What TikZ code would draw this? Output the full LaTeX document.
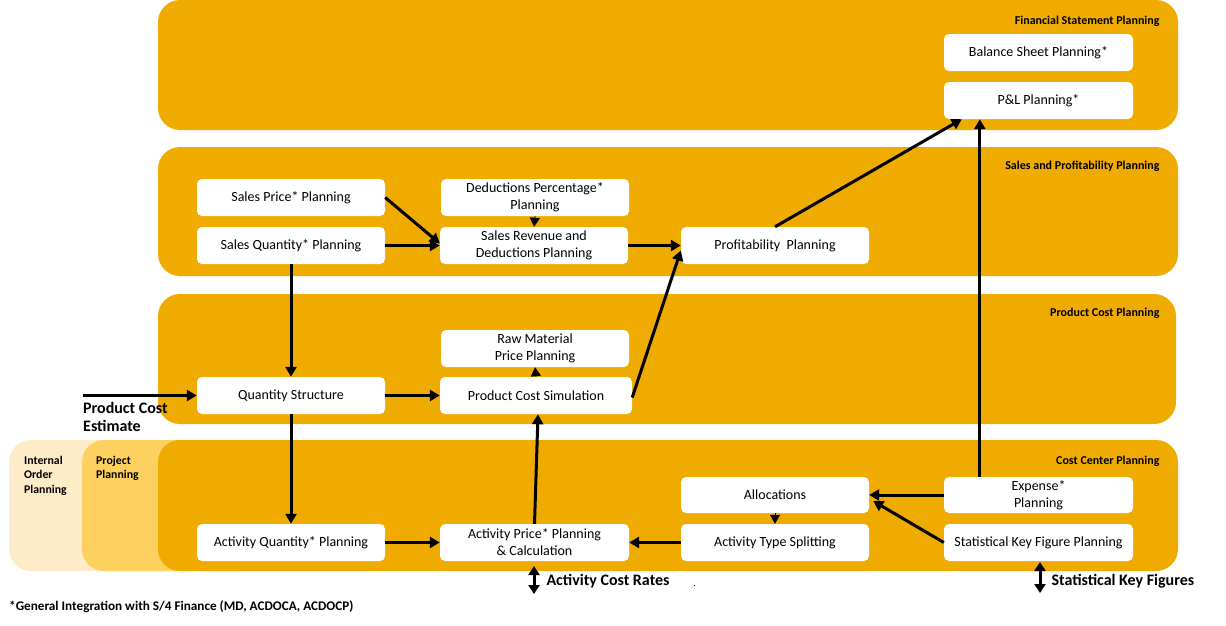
\documentclass[tikz,border=0pt]{standalone}
\usepackage{fontspec}
\setmainfont{Carlito}
\usetikzlibrary{arrows.meta,calc}
\definecolor{dark}{RGB}{240,171,0}
\definecolor{mid}{RGB}{253,208,96}
\definecolor{pale}{RGB}{254,236,200}
\tikzset{
  box/.style={rectangle,rounded corners=5pt,fill=white,minimum width=188pt,minimum height=37pt,inner sep=0pt,align=center,font=\fontsize{14}{17}\selectfont},
  band/.style={fill=dark,rounded corners=22pt},
  blabel/.style={anchor=east,font=\bfseries\fontsize{12}{14}\selectfont},
  arr/.style={line width=3pt,-{Triangle[length=10pt,width=11pt]}},
  sarr/.style={line width=0.8pt,-{Triangle[length=9pt,width=10pt]}},
  darr/.style={line width=3pt,{Triangle[length=9pt,width=11pt]}-{Triangle[length=9pt,width=11pt]}},
  blbl/.style={anchor=west,font=\bfseries\fontsize{16}{18}\selectfont,align=left},
  sidelbl/.style={anchor=north west,align=left,font=\bfseries\fontsize{11.8}{14.5}\selectfont,inner sep=0pt},
}
\begin{document}
\begin{tikzpicture}[x=1pt,y=-1pt]
\useasboundingbox (0,0) rectangle (1226,625);
% bands
\fill[band] (158,0) rectangle (1178,130);
\fill[band] (158,147) rectangle (1178,276);
\fill[band] (158,294) rectangle (1176,424);
\fill[fill=pale,rounded corners=22pt] (9,440) rectangle (230,571);
\fill[fill=mid,rounded corners=22pt] (82,440) rectangle (260,571);
\fill[band] (158,440) rectangle (1178,571);
\node[blabel] (l1) at (1163,21) {Financial Statement Planning};
\node[blabel] (l2) at (1163,166) {Sales and Profitability Planning};
\node[blabel] (l3) at (1163,313) {Product Cost Planning};
\node[blabel] (l4) at (1163,461) {Cost Center Planning};
\node[sidelbl] (iop) at (24,456) {Internal\\Order\\Planning};
\node[sidelbl] (pjp) at (96,456) {Project\\Planning};
% boxes
\node[box,minimum width=189pt] (bs) at (1038.5,52.5) {Balance Sheet Planning*};
\node[box,minimum width=189pt] (pl) at (1038.5,100.5) {P\&L Planning*};
\node[box] (sp) at (291,197.5) {Sales Price* Planning};
\node[box] (sq) at (291,245.5) {Sales Quantity* Planning};
\node[box] (dp) at (535,197.5) {Deductions Percentage*\\Planning};
\node[box] (sr) at (534,245.5) {Sales Revenue and\\Deductions Planning};
\node[box] (pp) at (775,245.5) {Profitability\ \ Planning};
\node[box] (rm) at (535,348.5) {Raw Material\\Price Planning};
\node[box] (qs) at (291,395.5) {Quantity Structure};
\node[box,minimum width=192pt] (pcs) at (536,395.5) {Product Cost Simulation};
\node[box,minimum height=36pt] (al) at (775,495) {Allocations};
\node[box,minimum width=189pt,minimum height=36pt] (ex) at (1038.5,495) {Expense*\\Planning};
\node[box] (aq) at (291,542.5) {Activity Quantity* Planning};
\node[box,minimum width=189pt] (ap) at (534.5,542.5) {Activity Price* Planning\\\& Calculation};
\node[box] (ats) at (775,542.5) {Activity Type Splitting};
\node[box,minimum width=189pt] (sk) at (1038.5,542.5) {Statistical Key Figure Planning};
% arrows
\draw[arr] (sp.east) -- ($(sr.west)+(0,-2)$);
\draw[arr] (sq.east) -- (sr.west);
\draw[sarr] (dp.south) -- (sr.north);
\draw[arr] (sr.east) -- (pp.west);
\draw[arr] (pp.north) -- ($(pl.south west)+(18,0)$);
\draw[arr] (sq.south) -- (qs.north);
\coordinate (pce) at (83,395.5);
\draw[arr] (pce) -- (qs.west);
\node[blbl,anchor=north west,inner sep=0pt] (pcel) at (83,402) {Product Cost\\Estimate};
\draw[sarr] (pcs.north) -- (rm.south);
\draw[arr] (qs.east) -- (pcs.west);
\draw[arr] ($(pcs.east)+(0,2)$) -- ($(pp.west)+(0,5)$);
\draw[arr] (qs.south) -- (aq.north);
\draw[arr] (aq.east) -- (ap.west);
\draw[arr] (ap.north) -- ($(pcs.south)+(2,0)$);
\draw[arr] (ats.west) -- (ap.east);
\draw[sarr] (al.south) -- (ats.north);
\draw[arr] (ex.west) -- (al.east);
\draw[arr] (sk.west) -- ($(al.east)+(4,6)$);
\draw[arr] ($(ex.north west)+(36,0)$) -- ($(pl.south west)+(36,0)$);
% double arrows
\coordinate (a1) at (534,566);
\coordinate (a2) at (534,594);
\draw[darr] (a1) -- (a2);
\node[blbl] (acr) at (543,581) {Activity Cost Rates};
\coordinate (b1) at (1040,562);
\coordinate (b2) at (1040,593);
\draw[darr] (b1) -- (b2);
\node[blbl] (skf) at (1048,581) {Statistical Key Figures};
\fill (694.5,585.5) circle (0.7);
\node[anchor=west,font=\bfseries\fontsize{13.2}{15}\selectfont,inner sep=0pt] (foot) at (9,607) {*General Integration with S/4 Finance (MD, ACDOCA, ACDOCP)};
\end{tikzpicture}
\end{document}
